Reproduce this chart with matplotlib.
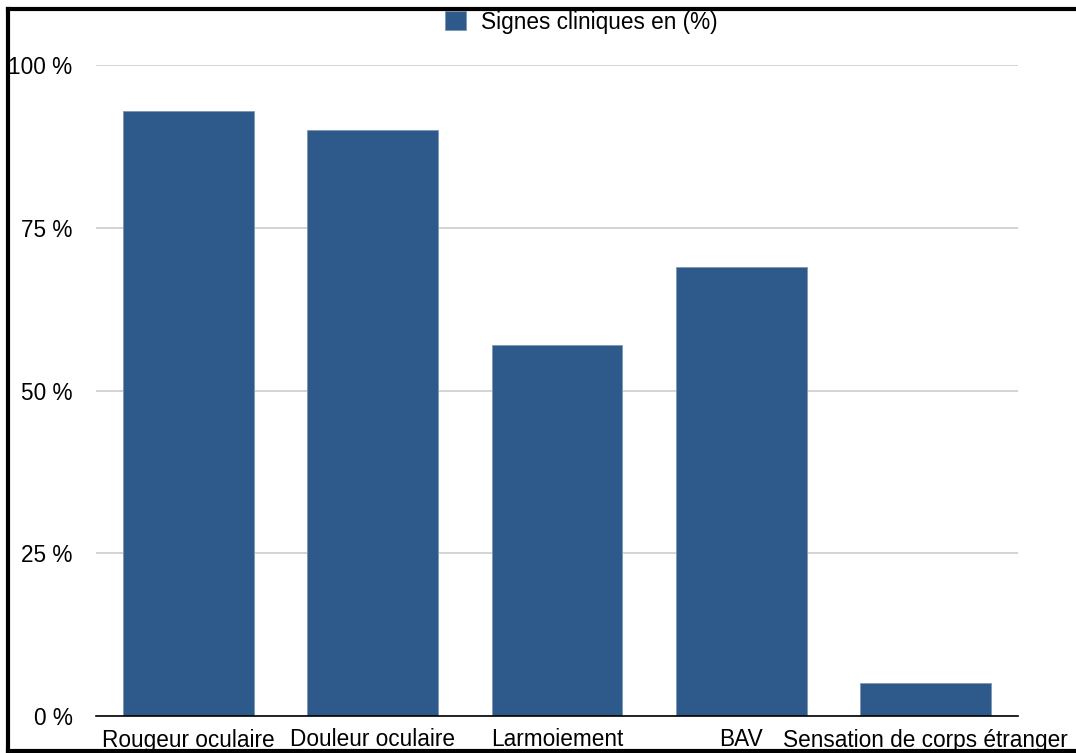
import matplotlib.pyplot as plt
from matplotlib.lines import Line2D
from matplotlib.ticker import FuncFormatter

plt.rcParams['font.family'] = ['Liberation Sans', 'DejaVu Sans']

categories = ['Rougeur oculaire', 'Douleur oculaire', 'Larmoiement', 'BAV',
              'Sensation de corps étranger']
values = [93, 90, 57, 69, 5]
series_name = 'Signes cliniques en (%)'
yticks = [0, 25, 50, 75, 100]

W, H = 1076, 753
fig = plt.figure(figsize=(W / 100, H / 100), dpi=100)
ax = fig.add_axes([96 / W, 1 - 716 / H, (1018 - 96) / W, (716 - 65) / H])

bar_color = '#2e5a8b'
x = range(len(categories))
ax.bar(x, values, width=0.71, color=bar_color, edgecolor='#7f96b3',
       linewidth=0.6, zorder=3, label=series_name)

fs = 16.3
ax.set_xlim(-0.5, len(categories) - 0.5)
ax.set_ylim(0, 100)
ax.set_yticks(yticks)
ax.yaxis.set_major_formatter(FuncFormatter(lambda v, p: f'{v:.0f} %'))
ax.set_xticks(list(x))
ax.set_xticklabels(categories)
ax.tick_params(axis='both', length=0, labelsize=fs, colors='black')
ax.tick_params(axis='y', pad=17)
ax.tick_params(axis='x', pad=9)

ax.grid(axis='y', color='#cccccc', linewidth=1.2, zorder=0)
for side in ['top', 'right', 'left']:
    ax.spines[side].set_visible(False)
ax.spines['bottom'].set_color('black')
ax.spines['bottom'].set_linewidth(1.2)
ax.spines['bottom'].set_zorder(4)

fig.legend(loc='center', bbox_to_anchor=(581 / W, 1 - 22 / H), frameon=False,
           fontsize=fs, handlelength=0.95, handleheight=0.95, handletextpad=0.65)

# frame around the figure
lw = 3
fig.add_artist(Line2D([8 / W, 1], [1 - 9 / H, 1 - 9 / H], color='black', lw=lw,
                      transform=fig.transFigure))
fig.add_artist(Line2D([8 / W, 8 / W], [1 - 9 / H, 1 - 751 / H], color='black', lw=lw,
                      transform=fig.transFigure))
fig.add_artist(Line2D([8 / W, 1], [1 - 751 / H, 1 - 751 / H], color='black', lw=lw,
                      transform=fig.transFigure))

fig.savefig('out.png', dpi=100)
